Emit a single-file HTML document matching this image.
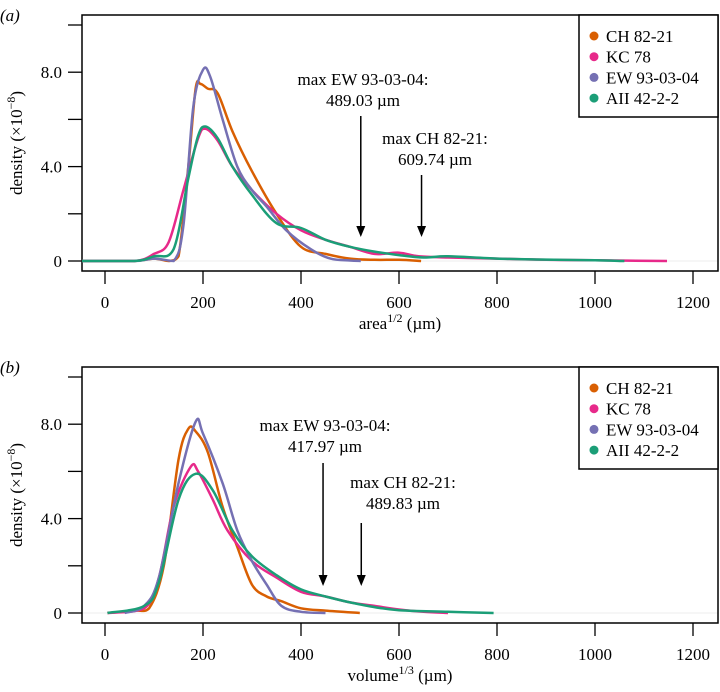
<!DOCTYPE html>
<html><head><meta charset="utf-8"><style>
body{margin:0;background:#fff}
svg{display:block;font-family:"Liberation Serif",serif}
</style></head><body>
<svg id="chart" width="720" height="692" viewBox="0 0 720 692" xmlns="http://www.w3.org/2000/svg"></svg>
<script>
const xTicks=[0,200,400,600,800,1000,1200];
const yTicks=[0,2,4,6,8,10];
const yTickLabels={0:"0",4:"4.0",8:"8.0"};
const seriesNames=["CH 82-21","KC 78","EW 93-03-04","AII 42-2-2"];
const colors=["#d95f02","#e7298a","#7570b3","#1b9e77"];
// panel a
const aCH_x=[-47,60,100,130,150,170,185,195,210,230,260,300,350,400,450,500,550,600,645];
const aCH_y=[0,0,0.1,0,0.2,4,7.3,7.5,7.3,7.1,5.5,3.8,2.0,0.6,0.3,0.1,0.05,0.05,0];
const aKC_x=[-47,60,100,130,160,190,205,230,260,300,350,400,450,500,550,600,640,700,800,900,1000,1147];
const aKC_y=[0,0,0.3,0.8,3,5.2,5.6,5.1,4.0,3.0,2.0,1.3,0.9,0.6,0.3,0.35,0.2,0.15,0.1,0.05,0.03,0];
const aEW_x=[-47,60,100,140,160,180,200,215,240,270,300,330,370,420,460,500,522];
const aEW_y=[0,0,0.1,0,1.5,6.5,8.1,7.8,6,4,3.0,2.3,1.3,0.5,0.1,0.02,0];
const aAII_x=[-47,60,100,140,170,190,205,230,260,300,350,400,450,500,550,600,650,700,800,900,1000,1060];
const aAII_y=[0,0,0.2,0.5,3.5,5.3,5.7,5.2,4.0,2.8,1.6,1.4,0.9,0.6,0.4,0.25,0.15,0.2,0.1,0.06,0.03,0];
// panel b
const bCH_x=[5,60,90,120,150,170,185,210,240,270,300,330,360,400,450,520];
const bCH_y=[0,0.1,0.2,2,6.5,7.8,7.7,6.8,4.5,2.8,1.2,0.7,0.5,0.2,0.1,0];
const bKC_x=[5,80,110,140,175,190,220,250,300,350,400,450,500,550,600,650,700];
const bKC_y=[0,0.2,1.5,4.5,6.2,6,4.8,3.5,2.2,1.5,0.9,0.7,0.45,0.3,0.15,0.05,0];
const bEW_x=[40,80,110,150,185,200,240,270,300,330,360,400,450];
const bEW_y=[0,0.3,1.5,5.5,8.1,7.6,5.5,3.5,2.2,1.2,0.3,0.05,0];
const bAII_x=[5,80,110,150,185,220,260,300,350,400,450,500,550,600,700,793];
const bAII_y=[0,0.3,1.3,4.8,5.9,5.2,3.5,2.4,1.6,1.0,0.7,0.45,0.25,0.12,0.05,0];

const NS="http://www.w3.org/2000/svg";
const svg=document.getElementById('chart');
function mk(tag,attrs,parent,text){const e=document.createElementNS(NS,tag);for(const k in attrs)e.setAttribute(k,attrs[k]);if(text!==undefined)e.textContent=text;(parent||svg).appendChild(e);return e;}
function xs(v){return 105+v*0.49;}
function smooth(pts,base){let d="M"+pts[0][0]+","+pts[0][1];for(let i=0;i<pts.length-1;i++){const p0=pts[Math.max(0,i-1)],p1=pts[i],p2=pts[i+1],p3=pts[Math.min(pts.length-1,i+2)];const c1=[p1[0]+(p2[0]-p0[0])/6,Math.min(base,p1[1]+(p2[1]-p0[1])/6)],c2=[p2[0]-(p3[0]-p1[0])/6,Math.min(base,p2[1]-(p3[1]-p1[1])/6)];d+=" C"+c1[0].toFixed(1)+","+c1[1].toFixed(1)+" "+c2[0].toFixed(1)+","+c2[1].toFixed(1)+" "+p2[0].toFixed(1)+","+p2[1].toFixed(1);}return d;}

function panel(cfg){
  const g=mk('g',{});
  
  
  const ys=v=>cfg.y0-v*23.6;
  const t=mk('text',{x:0,y:cfg.top+6,'font-size':17,'font-style':'italic'},g,'('+cfg.letter+')');
  
  mk('line',{x1:82,y1:ys(0),x2:718,y2:ys(0),stroke:'#eee','stroke-width':1},g);
  mk('rect',{x:82,y:cfg.top,width:636,height:cfg.bottom-cfg.top,fill:'none',stroke:'#000','stroke-width':1.5},g);
  yTicks.forEach(v=>{
    const l=mk('line',{x1:68,x2:82,y1:ys(v),y2:ys(v),stroke:'#000','stroke-width':1.3},g);
    
    if(yTickLabels[v]!==undefined){const tl=mk('text',{x:62,y:ys(v)+6,'text-anchor':'end','font-size':17},g,yTickLabels[v]);}
  });
  xTicks.forEach(v=>{
    const l=mk('line',{x1:xs(v),x2:xs(v),y1:cfg.bottom,y2:cfg.bottom+13,stroke:'#000','stroke-width':1.3},g);
    
    const tl=mk('text',{x:xs(v),y:cfg.bottom+37,'text-anchor':'middle','font-size':17},g,String(v));
    
  });
  const yt=mk('text',{transform:`translate(22,${(cfg.top+cfg.bottom)/2}) rotate(-90)`,'text-anchor':'middle','font-size':17},g);
  
  yt.innerHTML='density (×10<tspan dy="-7" font-size="12">−8</tspan><tspan dy="7">)</tspan>';
  const xt=mk('text',{x:400,y:cfg.bottom+58,'text-anchor':'middle','font-size':17},g);
  
  xt.innerHTML=cfg.xlab+'<tspan dy="-7" font-size="12">'+cfg.sup+'</tspan><tspan dy="7"> (µm)</tspan>';
  cfg.series.forEach((s,i)=>{
    const pts=s[0].map((x,j)=>[xs(x),ys(s[1][j])]);
    const p=mk('path',{d:smooth(pts,ys(0)),fill:'none',stroke:colors[i],'stroke-width':2.5,'stroke-linejoin':'round'},g);
    
    
  });
  const lg=mk('g',{},g);
  
  mk('rect',{x:579,y:cfg.top,width:139,height:102,fill:'#fff',stroke:'#000','stroke-width':1.5},lg);
  seriesNames.forEach((n,i)=>{
    const yy=cfg.top+21+i*20.7;
    const e=mk('g',{},lg);
    
    mk('circle',{cx:594,cy:yy,r:4.5,fill:colors[i]},e);
    mk('text',{x:606,y:yy+6,'font-size':17},e,n);
  });
  cfg.ann.forEach(a=>{
    const ag=mk('g',{},g);
    
    mk('text',{x:a.tx,y:a.ty,'text-anchor':'middle','font-size':17},ag,a.l1);
    mk('text',{x:a.tx,y:a.ty+21,'text-anchor':'middle','font-size':17},ag,a.l2);
    mk('line',{x1:xs(a.v),x2:xs(a.v),y1:a.y1,y2:a.y2-8,stroke:'#000','stroke-width':1.5},ag);
    mk('polygon',{points:`${xs(a.v)-4.5},${a.y2-11} ${xs(a.v)+4.5},${a.y2-11} ${xs(a.v)},${a.y2}`,fill:'#000'},ag);
  });
}
panel({name:'panel-a',letter:'a',top:15,bottom:271,y0:261,xlab:'area',sup:'1/2',
  series:[[aCH_x,aCH_y],[aKC_x,aKC_y],[aEW_x,aEW_y],[aAII_x,aAII_y]],
  ann:[{v:522,tx:363,ty:85,l1:'max EW 93-03-04:',l2:'489.03 µm',y1:116,y2:237},
       {v:646,tx:435,ty:144,l1:'max CH 82-21:',l2:'609.74 µm',y1:175,y2:237}]});
panel({name:'panel-b',letter:'b',top:367,bottom:623,y0:613,xlab:'volume',sup:'1/3',
  series:[[bCH_x,bCH_y],[bKC_x,bKC_y],[bEW_x,bEW_y],[bAII_x,bAII_y]],
  ann:[{v:445,tx:325,ty:431,l1:'max EW 93-03-04:',l2:'417.97 µm',y1:463,y2:586},
       {v:523,tx:403,ty:488,l1:'max CH 82-21:',l2:'489.83 µm',y1:523,y2:586}]});
</script>
</body></html>
